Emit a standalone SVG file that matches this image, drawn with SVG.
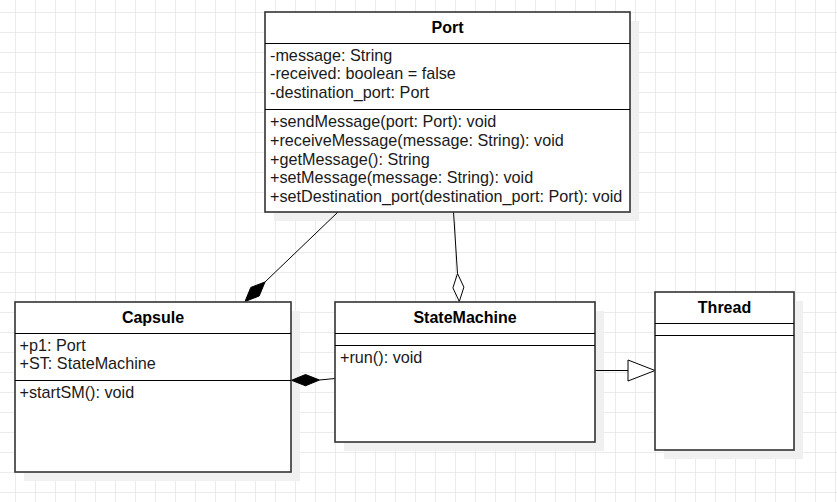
<svg xmlns="http://www.w3.org/2000/svg" width="837" height="502" viewBox="0 0 837 502">
  <style>
    .box { fill: #ffffff; stroke: #333333; stroke-width: 1.6; }
    .shadow { fill: #f0f0f0; stroke: none; }
    .div { stroke: #000000; stroke-width: 1; fill: none; }
    .title { font-family: "Liberation Sans", Arial, Helvetica, sans-serif; font-size: 16px; font-weight: bold; fill: #000000; text-anchor: middle; }
    .member { font-family: "Liberation Sans", Arial, Helvetica, sans-serif; font-size: 16.2px; fill: #1a1a1a; }
    .edge { stroke: #000000; stroke-width: 1; fill: none; }
    .filled { fill: #000000; stroke: #000000; stroke-width: 1; }
    .hollow { fill: #ffffff; stroke: #000000; stroke-width: 1; }
  </style>
  <defs>
    <pattern id="grid" x="15" y="12" width="20" height="20" patternUnits="userSpaceOnUse">
      <path d="M 0 0.5 H 20 M 0.5 0 V 20" stroke="#ebebeb" stroke-width="1" fill="none"/>
    </pattern>
  </defs>
  <rect x="0" y="0" width="837" height="502" fill="#ffffff"/>
  <rect x="0" y="0" width="837" height="502" fill="url(#grid)"/>

  <!-- shadows -->
  <rect class="shadow" x="274" y="21" width="365" height="200"/>
  <rect class="shadow" x="24" y="311" width="276" height="170"/>
  <rect class="shadow" x="344" y="311" width="260" height="140"/>
  <rect class="shadow" x="664" y="301" width="139" height="158"/>

  <g id="connectors">
    <!-- Port to Capsule (composition) -->
    <line class="edge" x1="338" y1="212" x2="265" y2="282"/>
    <polygon class="filled" points="245,301.5 250.8,287.4 265,282 259.2,296"/>
    <!-- Port to StateMachine (aggregation) -->
    <line class="edge" x1="453.5" y1="212" x2="457.5" y2="273.6"/>
    <polygon class="hollow" points="459.3,301.5 463.9,287.1 457.5,273.6 452.9,287.9"/>
    <!-- StateMachine to Capsule (composition) -->
    <line class="edge" x1="335" y1="378.5" x2="319.5" y2="380"/>
    <polygon class="filled" points="291.5,380.3 305.5,374.5 319.5,380 305.5,385.8"/>
    <!-- StateMachine to Thread (generalization) -->
    <line class="edge" x1="595" y1="370.5" x2="628" y2="370.5"/>
    <polygon class="hollow" points="628,360 655,370.5 628,381"/>
  </g>

  <g id="port">
    <rect class="box" x="265" y="12" width="365" height="200"/>
    <line class="div" x1="265" y1="43.5" x2="630" y2="43.5"/>
    <line class="div" x1="265" y1="109.5" x2="630" y2="109.5"/>
    <text class="title" x="447.5" y="33">Port</text>
    <text class="member" x="270" y="60.5">-message: String</text>
    <text class="member" x="270" y="79.3">-received: boolean = false</text>
    <text class="member" x="270" y="98.1">-destination_port: Port</text>
    <text class="member" x="270" y="126.9">+sendMessage(port: Port): void</text>
    <text class="member" x="270" y="145.7">+receiveMessage(message: String): void</text>
    <text class="member" x="270" y="164.5">+getMessage(): String</text>
    <text class="member" x="270" y="183.3">+setMessage(message: String): void</text>
    <text class="member" x="270" y="202.1">+setDestination_port(destination_port: Port): void</text>
  </g>

  <g id="capsule">
    <rect class="box" x="15" y="302" width="276" height="170"/>
    <line class="div" x1="15" y1="333.5" x2="291" y2="333.5"/>
    <line class="div" x1="15" y1="380.5" x2="291" y2="380.5"/>
    <text class="title" x="153" y="322.8">Capsule</text>
    <text class="member" x="19.5" y="350.5">+p1: Port</text>
    <text class="member" x="19.5" y="369.3">+ST: StateMachine</text>
    <text class="member" x="19.5" y="397.9">+startSM(): void</text>
  </g>

  <g id="statemachine">
    <rect class="box" x="335" y="302" width="260" height="140"/>
    <line class="div" x1="335" y1="333.5" x2="595" y2="333.5"/>
    <line class="div" x1="335" y1="345.5" x2="595" y2="345.5"/>
    <text class="title" x="465" y="322.8">StateMachine</text>
    <text class="member" x="340" y="363">+run(): void</text>
  </g>

  <g id="thread">
    <rect class="box" x="655" y="292" width="139" height="158"/>
    <line class="div" x1="655" y1="323.5" x2="794" y2="323.5"/>
    <line class="div" x1="655" y1="335.5" x2="794" y2="335.5"/>
    <text class="title" x="724.5" y="313.3">Thread</text>
  </g>
</svg>
